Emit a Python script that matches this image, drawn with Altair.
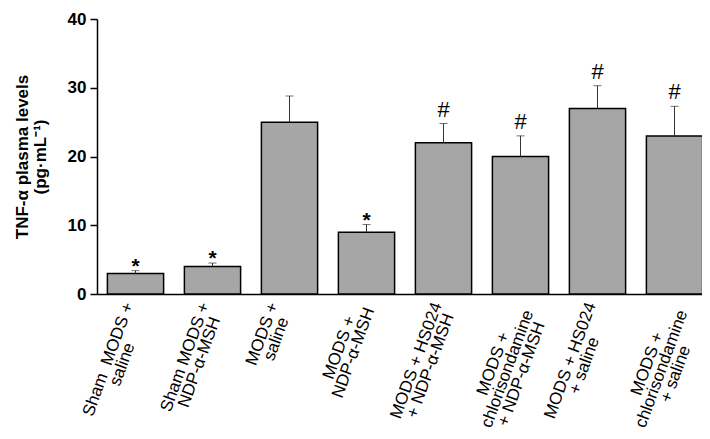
import math
import altair as alt
import pandas as pd

ids = ["g1", "g2", "g3", "g4", "g5", "g6", "g7", "g8"]
labels = [
    "Sham\u00a0 MODS +\nsaline",
    "Sham MODS +\nNDP-α-MSH",
    "MODS +\nsaline",
    "MODS +\nNDP-α-MSH",
    "MODS + HS024\n+ NDP-α-MSH",
    "MODS +\nchlorisondamine\n+ NDP-α-MSH",
    "MODS + HS024\n+ saline",
    "MODS +\nchlorisondamine\n+ saline",
]
values = [3.0, 4.0, 25.0, 9.0, 22.0, 20.0, 27.0, 23.0]
errors = [0.4, 0.5, 3.8, 1.1, 2.8, 3.0, 3.3, 4.3]
marks = ["*", "*", "", "*", "#", "#", "#", "#"]

W, H = 605, 275
FONT = "Liberation Sans"
LFS = 17      # label font size
LLH = 15      # label line height
ANG = 70      # label rotation (counter-clockwise), degrees

# approximate Arial/Liberation Sans advance widths (em/1000) to place the
# rotated, centred label blocks so that their top sits just under the axis
_w = {' ': 278, '\u00a0': 278, '+': 584, '-': 333, 'α': 578, 'A': 667, 'D': 722,
      'H': 722, 'M': 833, 'N': 722, 'O': 778, 'P': 667, 'S': 667, '0': 556,
      '2': 556, '4': 556, 'a': 556, 'c': 500, 'd': 556, 'e': 556, 'h': 556,
      'i': 222, 'l': 222, 'm': 833, 'n': 556, 'o': 556, 'r': 333, 's': 500}


def text_w(s):
    return sum(_w.get(c, 556) for c in s) / 1000.0 * LFS


sa, ca = math.sin(math.radians(ANG)), math.cos(math.radians(ANG))
xoffs, yoffs = [], []
for lab in labels:
    lines = lab.split("\n")
    wmax = max(text_w(l) for l in lines)
    n = len(lines)
    xoffs.append(1)
    yoffs.append(4 + wmax / 2 * sa + n * LLH / 2 * ca)

df = pd.DataFrame({
    "id": ids,
    "label": labels,
    "value": values,
    "upper": [v + e for v, e in zip(values, errors)],
    "mark": marks,
    "xoff": xoffs,
    "yoff": yoffs,
})

xscale = alt.Scale(range=[0, 616], paddingInner=0.27, paddingOuter=0.135)


def X(**kw):
    return alt.X("id:N", sort=ids, scale=xscale, **kw)


base = alt.Chart(df)

bars = base.mark_bar(color="#a6a6a6", stroke="black", strokeWidth=1.5).encode(
    x=X(axis=alt.Axis(labels=False, ticks=False, title=None,
                      domainColor="black", domainWidth=1.5)),
    y=alt.Y("value:Q", scale=alt.Scale(domain=[0, 40]),
            axis=alt.Axis(values=[0, 10, 20, 30, 40], grid=False,
                          title=["TNF-α plasma levels", "(pg·mL⁻¹)"],
                          titleFont=FONT, titleFontSize=17, titleFontWeight="bold",
                          titleColor="black", titlePadding=18, titleLineHeight=18,
                          labelFont=FONT, labelFontSize=17, labelFontWeight="bold",
                          labelColor="black", labelPadding=4,
                          tickSize=7, tickColor="black", tickWidth=1.5,
                          domainColor="black", domainWidth=1.5)),
)

err = base.mark_rule(color="#333333", strokeWidth=1).encode(
    x=X(), y="value:Q", y2="upper:Q",
)

caps = base.mark_tick(color="#333333", thickness=1, size=8, orient="horizontal").encode(
    x=X(), y="upper:Q",
)

stars = base.transform_filter(alt.datum.mark == "*").mark_text(
    font=FONT, fontSize=21, fontWeight="bold", baseline="alphabetic", dy=2,
    color="black").encode(
    x=X(), y="upper:Q", text="mark:N",
)

hashes = base.transform_filter(alt.datum.mark == "#").mark_text(
    font=FONT, fontSize=22, baseline="alphabetic", dy=-7, color="black").encode(
    x=X(), y="upper:Q", text="mark:N",
)

xlabels = base.mark_text(font=FONT, fontSize=LFS, angle=360 - ANG, align="center",
                         baseline="middle", lineBreak="\n", lineHeight=LLH,
                         color="black").encode(
    x=X(),
    xOffset=alt.XOffset("xoff:Q", scale=None),
    y=alt.value(H),
    yOffset=alt.YOffset("yoff:Q", scale=None),
    text="label:N",
)

chart = alt.layer(bars, err, caps, stars, hashes, xlabels).properties(
    width=W, height=H,
    autosize=alt.AutoSizeParams(type="none"),
    padding={"left": 89, "top": 11, "right": 0, "bottom": 145},
).configure_view(stroke=None)

chart.save("out.html", embed_options={"renderer": "svg", "actions": False})
